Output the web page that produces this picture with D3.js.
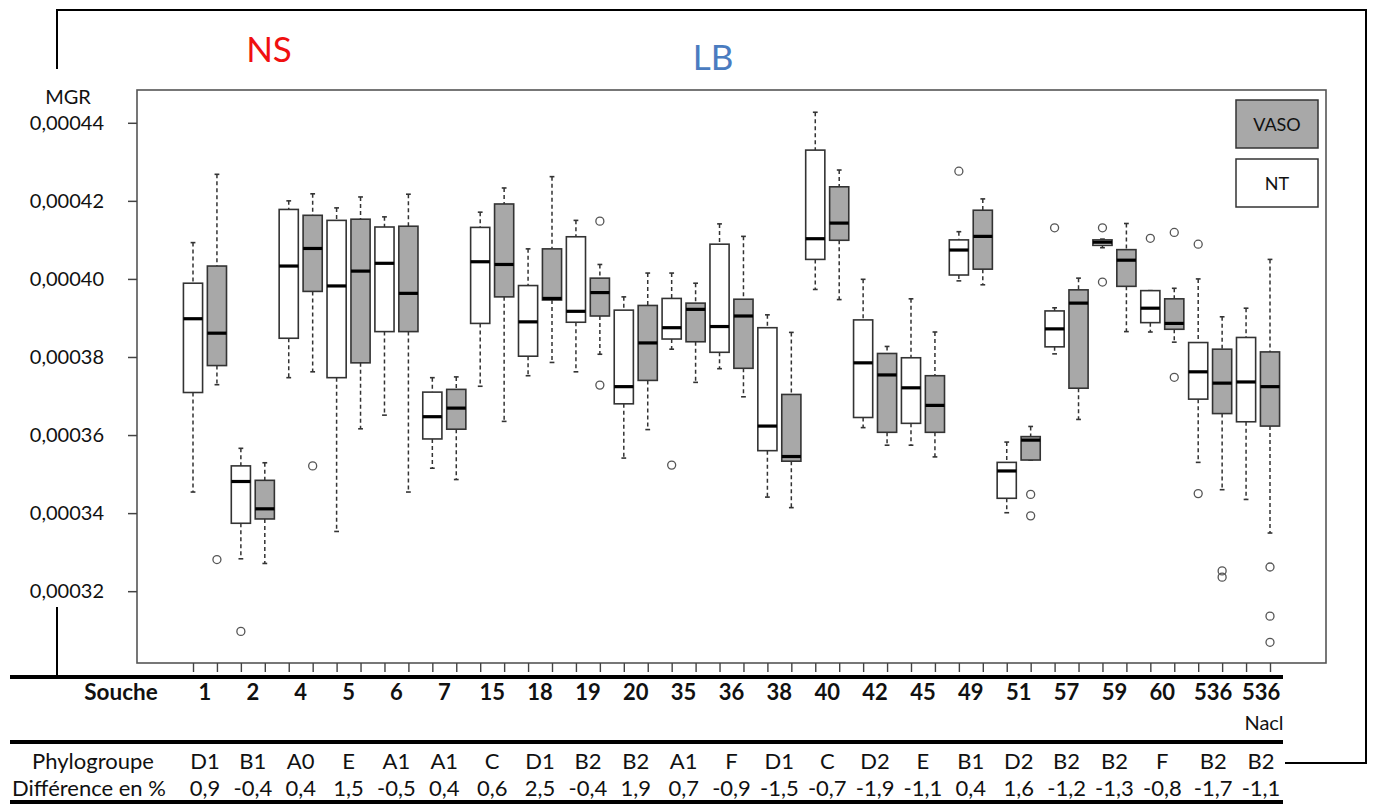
<!DOCTYPE html>
<html><head><meta charset="utf-8">
<script src="https://cdn.jsdelivr.net/npm/d3@7"></script>
<style>
body{margin:0;background:#fff}
svg{display:block}
text{font-family:Lato,"Open Sans",sans-serif;fill:#111}
</style>
</head><body>
<svg id="c" width="1374" height="805"></svg>
<script>
const strains = ["1","2","4","5","6","7","15","18","19","20","35","36","38","40","42","45","49","51","57","59","60","536","536"];
const phylogroups = ["D1","B1","A0","E","A1","A1","C","D1","B2","B2","A1","F","D1","C","D2","E","B1","D2","B2","B2","F","B2","B2"];
const differences = ["0,9","-0,4","0,4","1,5","-0,5","0,4","0,6","2,5","-0,4","1,9","0,7","-0,9","-1,5","-0,7","-1,9","-1,1","0,4","1,6","-1,2","-1,3","-0,8","-1,7","-1,1"];
const groups = ["NT","VASO"];
const yTicks = [0.00032,0.00034,0.00036,0.00038,0.0004,0.00042,0.00044];

const ntHigh = [0.0004093,0.0003566,0.00042,0.0004182,0.0004159,0.0003747,0.0004171,0.0004077,0.000415,0.0003954,0.0004015,0.0004141,0.0003908,0.0004427,0.0003999,0.0003949,0.0004121,0.0003582,0.0003926,0.0004102,0.000397,0.0004,0.0003925];
const ntQ3 = [0.0003989,0.0003521,0.0004178,0.000415,0.0004133,0.000371,0.0004132,0.0003983,0.0004108,0.000392,0.000395,0.0004089,0.0003875,0.000433,0.0003895,0.0003798,0.00041,0.000353,0.0003918,0.00041,0.000397,0.0003837,0.000385];
const ntMedian = [0.0003898,0.0003481,0.0004033,0.0003982,0.000404,0.0003647,0.0004044,0.000389,0.0003917,0.0003724,0.0003875,0.0003878,0.0003623,0.0004103,0.0003785,0.0003721,0.0004074,0.0003508,0.0003872,0.0004094,0.0003925,0.0003762,0.0003736];
const ntQ1 = [0.0003709,0.0003374,0.0003848,0.0003747,0.0003865,0.000359,0.0003886,0.0003802,0.0003889,0.000368,0.0003846,0.0003812,0.000356,0.000405,0.0003645,0.000363,0.000401,0.0003438,0.0003826,0.0004086,0.0003888,0.0003692,0.0003634];
const ntLow = [0.0003454,0.0003283,0.0003747,0.0003353,0.0003651,0.0003515,0.0003725,0.0003752,0.0003762,0.0003541,0.000382,0.000377,0.0003441,0.0003973,0.0003619,0.0003574,0.0003995,0.0003401,0.0003808,0.000408,0.0003864,0.000353,0.0003435];
const ntOutliers = [[],[0.0003097],[],[],[],[],[],[],[],[],[0.0003523],[],[],[],[],[],[0.0004276],[],[0.0004131],[0.0004131,0.0003992],[0.0004104],[0.0004089,0.000345],[]];

const vasoHigh = [0.0004268,0.0003529,0.0004218,0.000421,0.0004217,0.0003749,0.0004233,0.0004262,0.0004037,0.0004015,0.0003989,0.0004109,0.0003863,0.0004279,0.0003827,0.0003864,0.0004205,0.0003622,0.0004002,0.0004142,0.0003976,0.0003903,0.000405];
const vasoQ3 = [0.0004033,0.0003484,0.0004163,0.0004153,0.0004135,0.0003717,0.0004192,0.0004077,0.0004002,0.0003932,0.0003938,0.0003948,0.0003704,0.0004236,0.0003809,0.0003752,0.0004176,0.0003596,0.0003972,0.0004075,0.0003949,0.000382,0.0003813];
const vasoMedian = [0.0003861,0.0003411,0.0004078,0.000402,0.0003963,0.0003669,0.0004037,0.000395,0.0003965,0.0003836,0.0003922,0.0003905,0.0003545,0.0004143,0.0003754,0.0003676,0.0004109,0.0003587,0.0003938,0.0004048,0.0003886,0.0003733,0.0003724];
const vasoQ1 = [0.0003778,0.0003385,0.0003968,0.0003785,0.0003865,0.0003615,0.0003954,0.0003946,0.0003905,0.000374,0.0003839,0.0003771,0.0003533,0.0004099,0.0003607,0.0003607,0.0004025,0.0003536,0.000372,0.0003981,0.0003871,0.0003655,0.0003623];
const vasoLow = [0.0003729,0.0003271,0.0003762,0.0003616,0.0003454,0.0003486,0.0003635,0.0003786,0.0003807,0.0003614,0.0003735,0.0003698,0.0003414,0.0003947,0.0003574,0.0003544,0.0003985,0.0003536,0.000364,0.0003865,0.0003838,0.000346,0.0003349];
const vasoOutliers = [[0.0003281],[],[0.0003521],[],[],[],[],[],[0.0004148,0.0003728],[],[],[],[],[],[],[],[],[0.0003448,0.0003393],[],[],[0.0004119,0.0003748],[0.0003252,0.0003236],[0.0003262,0.0003136,0.0003069]];

const svg = d3.select("#c");
const P = {l:137, r:1326, t:90, b:663};
const nBox = strains.length * 2;
const ext = 0.04 * nBox;
const x = d3.scaleLinear().domain([0.5 - ext, nBox + 0.5 + ext]).range([P.l, P.r]);
const y = d3.scaleLinear().domain([0.0003016, 0.0004484]).range([P.b, P.t]);
const fills = {NT:"#ffffff", VASO:"#a8a8a8"};

const boxes = [];
strains.forEach((s,i)=>{
  boxes.push({pos:2*i+1, g:"NT", hi:ntHigh[i], q3:ntQ3[i], med:ntMedian[i], q1:ntQ1[i], lo:ntLow[i], out:ntOutliers[i]});
  boxes.push({pos:2*i+2, g:"VASO", hi:vasoHigh[i], q3:vasoQ3[i], med:vasoMedian[i], q1:vasoQ1[i], lo:vasoLow[i], out:vasoOutliers[i]});
});

// outer bracket
const br = svg.append("g").attr("stroke","#000").attr("stroke-width",2).attr("fill","none");
br.append("path").attr("d","M57,69 V10 H1366 V763 H1285");
br.append("path").attr("d","M57,607 V677");

// titles
svg.append("text").attr("x",269).attr("y",62).attr("text-anchor","middle").style("font-size","35px").style("fill","#f01010").text("NS");
svg.append("text").attr("x",713).attr("y",70).attr("text-anchor","middle").style("font-size","35px").style("fill","#4a7cc0").text("LB");

// plot frame
svg.append("rect").attr("x",P.l).attr("y",P.t).attr("width",P.r-P.l).attr("height",P.b-P.t)
  .attr("fill","none").attr("stroke","#555").attr("stroke-width",1.6);

// y axis
const yAxis = d3.axisLeft(y).tickValues(yTicks).tickSize(9).tickPadding(24)
  .tickFormat(d=>d3.format(".5f")(d).replace(".",","));
const ya = svg.append("g").attr("transform",`translate(${P.l},0)`).call(yAxis);
ya.select(".domain").remove();
ya.selectAll("line").attr("stroke","#444").attr("stroke-width",1.5);
ya.selectAll("text").style("font-size","20px").style("font-family","Lato").attr("fill","#111");
svg.append("text").attr("x",68).attr("y",104).attr("text-anchor","middle").style("font-size","20px").text("MGR");

// x axis ticks
const xAxis = d3.axisBottom(x).tickValues(d3.range(1,nBox+1)).tickSize(9).tickFormat("");
const xa = svg.append("g").attr("transform",`translate(0,${P.b})`).call(xAxis);
xa.select(".domain").remove();
xa.selectAll("line").attr("stroke","#444").attr("stroke-width",1.4);

// boxes
const bw = x(1.4) - x(1);
const cw = bw / 2;
const gb = svg.append("g");
boxes.forEach(b=>{
  const cx = x(b.pos);
  const g = gb.append("g");
  g.append("line").attr("x1",cx).attr("x2",cx).attr("y1",y(b.hi)).attr("y2",y(b.q3))
    .attr("stroke","#333").attr("stroke-width",1.5).attr("stroke-dasharray","4,3");
  g.append("line").attr("x1",cx).attr("x2",cx).attr("y1",y(b.q1)).attr("y2",y(b.lo))
    .attr("stroke","#333").attr("stroke-width",1.5).attr("stroke-dasharray","4,3");
  g.append("line").attr("x1",cx-cw/2).attr("x2",cx+cw/2).attr("y1",y(b.hi)).attr("y2",y(b.hi)).attr("stroke","#333").attr("stroke-width",1.6);
  g.append("line").attr("x1",cx-cw/2).attr("x2",cx+cw/2).attr("y1",y(b.lo)).attr("y2",y(b.lo)).attr("stroke","#333").attr("stroke-width",1.6);
  g.append("rect").attr("x",cx-bw).attr("width",2*bw).attr("y",y(b.q3)).attr("height",y(b.q1)-y(b.q3))
    .attr("fill",fills[b.g]).attr("stroke","#333").attr("stroke-width",1.6);
  g.append("line").attr("x1",cx-bw).attr("x2",cx+bw).attr("y1",y(b.med)).attr("y2",y(b.med)).attr("stroke","#000").attr("stroke-width",3.2);
  b.out.forEach(o=>{
    g.append("circle").attr("cx",cx).attr("cy",y(o)).attr("r",4).attr("fill","none").attr("stroke","#555").attr("stroke-width",1.3);
  });
});

// legend
const leg = [{g:"VASO", y:100},{g:"NT", y:159}];
leg.forEach(l=>{
  svg.append("rect").attr("x",1236).attr("y",l.y).attr("width",82).attr("height",48)
    .attr("fill",fills[l.g]).attr("stroke","#333").attr("stroke-width",1.5);
  svg.append("text").attr("x",1277).attr("y",l.y+31).attr("text-anchor","middle").style("font-size","18px").text(l.g);
});

// table
const tl = svg.append("g").attr("stroke","#000").attr("stroke-width",4);
[677,742,802].forEach(yy=>tl.append("line").attr("x1",10).attr("x2",1283).attr("y1",yy).attr("y2",yy));

const pairX = i => (x(2*i+1)+x(2*i+2))/2;
svg.append("text").attr("x",121).attr("y",700).attr("text-anchor","middle").style("font-size","22.5px").style("font-weight","bold").text("Souche");
strains.forEach((s,i)=>{
  svg.append("text").attr("x",pairX(i)+(i>=21?3:0)).attr("y",700).attr("text-anchor","middle").style("font-size","22px").style("font-weight","bold").text(s);
});
svg.append("text").attr("x",1264).attr("y",730).attr("text-anchor","middle").style("font-size","20px").text("Nacl");
svg.append("text").attr("x",93).attr("y",769).attr("text-anchor","middle").style("font-size","22px").text("Phylogroupe");
phylogroups.forEach((s,i)=>{
  svg.append("text").attr("x",pairX(i)+(i>=21?3:0)).attr("y",769).attr("text-anchor","middle").style("font-size","22px").text(s);
});
svg.append("text").attr("x",89).attr("y",796).attr("text-anchor","middle").style("font-size","22px").text("Différence en %");
differences.forEach((s,i)=>{
  svg.append("text").attr("x",pairX(i)+(i>=21?3:0)).attr("y",796).attr("text-anchor","middle").style("font-size","22px").text(s);
});
</script>
</body></html>
